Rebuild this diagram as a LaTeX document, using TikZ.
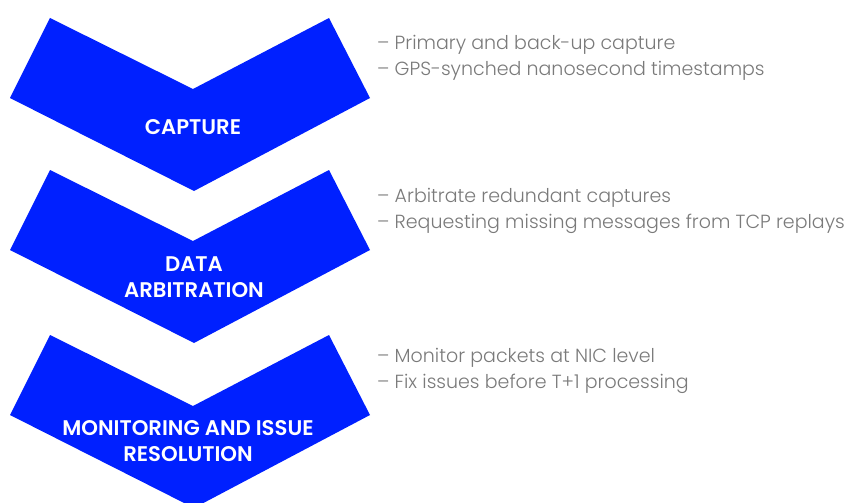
\documentclass[tikz,border=0pt]{standalone}
\usepackage{fontspec}
\setmainfont{Poppins}
\newfontfamily\labelfont{Poppins SemiBold}
\newfontfamily\notefont{Poppins Light}
\definecolor{chevblue}{RGB}{0,32,255}
\definecolor{notegray}{RGB}{122,122,122}
\tikzset{
	chevron/.style={fill=chevblue},
	steplabel/.style={text=white, font=\labelfont\fontsize{21.2}{26}\selectfont, align=center, inner sep=0pt},
	note/.style={text=notegray, font=\notefont\fontsize{19}{26}\selectfont, anchor=base west, inner sep=0pt},
}
\begin{document}
\begin{tikzpicture}[x=1pt, y=-1pt]
	\useasboundingbox (0,0) rectangle (847,503);
	\clip (0,0) rectangle (847,503);
	% 1. three chevrons pointing down (the last one runs off the bottom)
	\fill[chevron, shift={(0,18)}] (50,0) -- (193,71) -- (329,0) -- (370,80) -- (194,173) -- (10,80) -- cycle;
	\fill[chevron, shift={(0,170)}] (50,0) -- (193,71) -- (329,0) -- (370,80) -- (194,173) -- (10,80) -- cycle;
	\fill[chevron, shift={(0,335)}] (50,0) -- (193,71) -- (329,0) -- (370,80) -- (194,173) -- (10,80) -- cycle;
	
	% 2. stage names inside the chevrons
	\node[steplabel] (capture) at (193,127) {CAPTURE};
	\node[steplabel] (arbitration) at (194,277) {DATA\\ARBITRATION};
	\node[steplabel] (monitoring) at (188,441) {MONITORING AND ISSUE\\RESOLUTION};
	
	% 3. notes on the right, one node per line
	\node[note] (capA) at (377,50) {– Primary and back-up capture};
	\node[note] (capB) at (377,76) {– GPS-synched nanosecond timestamps};
	\node[note] (arbA) at (377,202) {– Arbitrate redundant captures};
	\node[note] (arbB) at (377,228) {– Requesting missing messages from TCP replays};
	\node[note] (monA) at (377,362) {– Monitor packets at NIC level};
	\node[note] (monB) at (377,388) {– Fix issues before T+1 processing};
\end{tikzpicture}
\end{document}
